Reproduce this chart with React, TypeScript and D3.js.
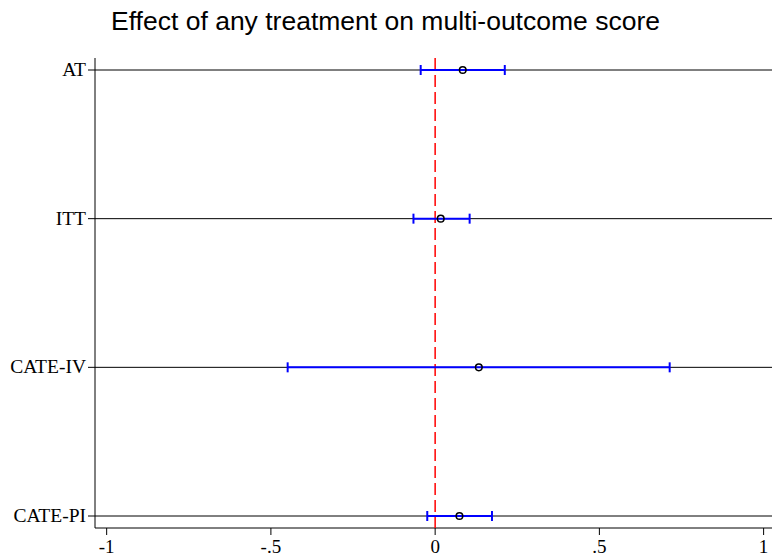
import React from "react";
import * as d3 from "d3";

const categories = ["AT", "ITT", "CATE-IV", "CATE-PI"];
const estimates = [0.084, 0.017, 0.133, 0.074];
const lower = [-0.044, -0.066, -0.449, -0.024];
const upper = [0.212, 0.105, 0.714, 0.173];
const xTicks = [-1, -0.5, 0, 0.5, 1];
const xTickLabels = ["-1", "-.5", "0", ".5", "1"];
const title = "Effect of any treatment on multi-outcome score";

export default function App() {
  const W = 772, H = 556;
  const left = 95, right = 772, top = 58, bottom = 528;
  const x = d3.scaleLinear().domain([-1.0355, 1.0255]).range([left, right]);
  const y = d3.scalePoint<string>().domain(categories).range([70, 516]);
  const cap = 5;
  return (
    <svg width={W} height={H} style={{ position: "absolute", left: 0, top: 0, background: "#fff" }}>
      <text x={385.5} y={30} textAnchor="middle" fontFamily="Liberation Sans, Arial, sans-serif" fontSize={26.5} fill="#000">{title}</text>
      <line x1={left} x2={left} y1={top} y2={bottom} stroke="#000" strokeWidth={1} />
      <line x1={left} x2={right} y1={bottom} y2={bottom} stroke="#000" strokeWidth={1} />
      {xTicks.map((t, i) => (
        <g key={t}>
          <line x1={x(t)} x2={x(t)} y1={bottom} y2={bottom + 7} stroke="#000" strokeWidth={1} />
          <text x={x(t)} y={bottom + 25} textAnchor="middle" fontFamily="Liberation Serif, Times New Roman, serif" fontSize={19} fill="#000">{xTickLabels[i]}</text>
        </g>
      ))}
      {categories.map((c) => (
        <g key={c}>
          <line x1={left - 7} x2={right} y1={y(c)!} y2={y(c)!} stroke="#000" strokeWidth={1} />
          <text x={left - 9} y={y(c)! + 6} textAnchor="end" fontFamily="Liberation Serif, Times New Roman, serif" fontSize={19.5} fill="#000">{c}</text>
        </g>
      ))}
      <line x1={x(0)} x2={x(0)} y1={top} y2={bottom} stroke="#f00" strokeWidth={1.5} strokeDasharray="12,5" />
      {categories.map((c, i) => {
        const yy = y(c)!;
        return (
          <g key={"ci" + c}>
            <line x1={x(lower[i])} x2={x(upper[i])} y1={yy} y2={yy} stroke="#00f" strokeWidth={2} />
            <line x1={x(lower[i])} x2={x(lower[i])} y1={yy - cap} y2={yy + cap} stroke="#00f" strokeWidth={2} />
            <line x1={x(upper[i])} x2={x(upper[i])} y1={yy - cap} y2={yy + cap} stroke="#00f" strokeWidth={2} />
            <circle cx={x(estimates[i])} cy={yy} r={3.3} fill="none" stroke="#000" strokeWidth={1.5} />
          </g>
        );
      })}
    </svg>
  );
}
